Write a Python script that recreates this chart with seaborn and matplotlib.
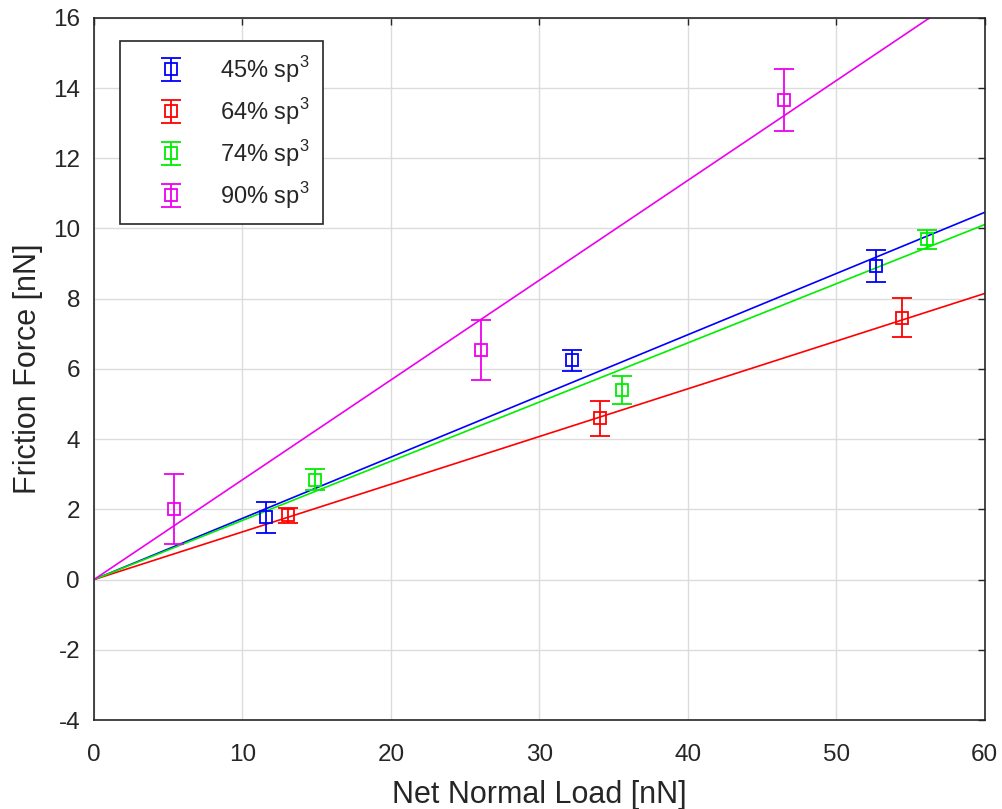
import matplotlib
matplotlib.use("Agg")
import matplotlib.pyplot as plt
import seaborn as sns
import numpy as np
import pandas as pd

labels = ["45% sp$^3$", "64% sp$^3$", "74% sp$^3$", "90% sp$^3$"]
colors = ["#0000ff", "#ff0000", "#00ee00", "#ee00ee"]

load_45 = [11.6, 32.2, 52.7]
force_45 = [1.77, 6.24, 8.93]
err_45 = [0.45, 0.30, 0.45]

load_64 = [13.1, 34.1, 54.4]
force_64 = [1.83, 4.59, 7.46]
err_64 = [0.22, 0.50, 0.55]

load_74 = [14.9, 35.6, 56.1]
force_74 = [2.85, 5.41, 9.69]
err_74 = [0.30, 0.40, 0.28]

load_90 = [5.4, 26.1, 46.5]
force_90 = [2.00, 6.53, 13.67]
err_90 = [1.00, 0.85, 0.88]

# slopes of the linear fits through the origin
fit_slopes = [0.1743, 0.1358, 0.1685, 0.2842]
fit_x = [0, 60]

sns.set_style("whitegrid")
plt.rcParams["font.family"] = ["Liberation Sans", "DejaVu Sans"]
plt.rcParams["mathtext.fontset"] = "custom"
plt.rcParams["mathtext.rm"] = "Liberation Sans"
plt.rcParams["axes.unicode_minus"] = False

fig = plt.figure(figsize=(10.03, 8.09), dpi=100)
ax = fig.add_axes([0.0937, 0.110, 0.888, 0.868])

series = [(load_45, force_45, err_45), (load_64, force_64, err_64),
          (load_74, force_74, err_74), (load_90, force_90, err_90)]

for (x, y, e), lab, c in zip(series, labels, colors):
    ax.errorbar(x, y, yerr=e, fmt="s", mfc="none", mec=c, ecolor=c,
                ms=9, mew=1.3, elinewidth=1.3, capsize=7, capthick=1.3,
                label=lab, zorder=3)

for s, c in zip(fit_slopes, colors):
    df = pd.DataFrame({"x": fit_x, "y": [s * v for v in fit_x]})
    sns.lineplot(data=df, x="x", y="y", color=c, lw=1.2, ax=ax, zorder=2)

ax.set_xlim(0, 60)
ax.set_ylim(-4, 16)
ax.set_xticks(np.arange(0, 61, 10))
ax.set_yticks(np.arange(-4, 17, 2))
ax.grid(True, color="#dcdcdc", lw=1.0)
for sp in ax.spines.values():
    sp.set_color("#262626")
    sp.set_linewidth(1.2)
ax.tick_params(direction="in", length=5, colors="#262626", labelsize=17.5,
               top=True, right=True, labeltop=False, labelright=False,
               width=1.0)
ax.tick_params(axis="x", pad=17)
ax.tick_params(axis="y", pad=10)
ax.set_xlabel("Net Normal Load [nN]", fontsize=22, color="#262626", labelpad=10)
ax.set_ylabel("Friction Force [nN]", fontsize=22, color="#262626", labelpad=7)

leg = ax.legend(loc="upper left", bbox_to_anchor=(0.029, 0.967), fontsize=17,
                frameon=True, fancybox=False, edgecolor="#262626",
                framealpha=1, borderpad=0.55, labelspacing=0.47,
                handlelength=3.2, handletextpad=0.5, borderaxespad=0)
leg.get_frame().set_linewidth(1.2)

fig.savefig("out.png", dpi=100)
